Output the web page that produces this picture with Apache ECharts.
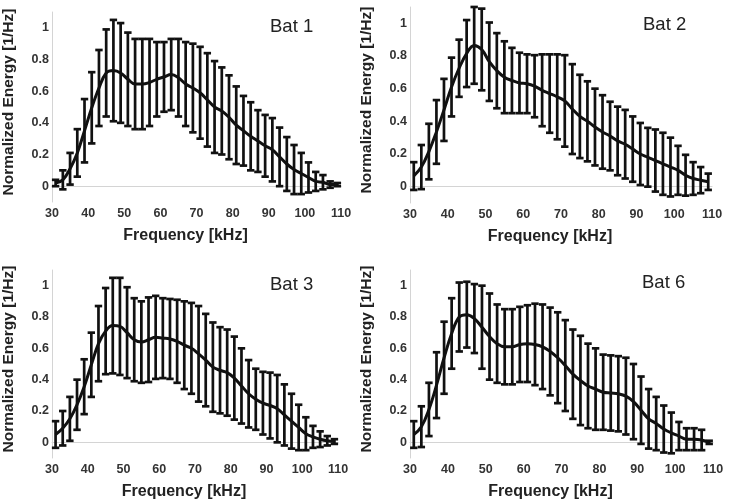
<!DOCTYPE html>
<html>
<head>
<meta charset="UTF-8">
<script src="https://cdn.jsdelivr.net/npm/echarts@6/dist/echarts.min.js"></script>
<title>Normalized energy spectra</title>
<style>
    html, body { margin: 0; padding: 0; background: #fff; }
    #chart { width: 730px; height: 501px; }
</style>
</head>
<body>
<div id="chart"></div>
<script>
// frequency bins (kHz)
const freq = [31, 33, 35, 37, 39, 41, 43, 45, 47, 49, 51, 53, 55, 57, 59, 61, 63, 65, 67, 69,
              71, 73, 75, 77, 79, 81, 83, 85, 87, 89, 91, 93, 95, 97, 99, 101, 103, 105, 107, 109];
const xTicks = [30, 40, 50, 60, 70, 80, 90, 100, 110];
const yTicks = [0, 0.2, 0.4, 0.6, 0.8, 1];

// mean and +/- error for each bat
const bat1Mean = [0.02, 0.04, 0.11, 0.21, 0.35, 0.495, 0.62, 0.715, 0.73, 0.715, 0.675, 0.645, 0.645, 0.655, 0.675, 0.69, 0.705, 0.685, 0.645, 0.62,
                  0.59, 0.545, 0.50, 0.475, 0.435, 0.385, 0.35, 0.315, 0.285, 0.255, 0.23, 0.185, 0.14, 0.105, 0.08, 0.055, 0.03, 0.025, 0.01, 0.01];
const bat1Err  = [0.02, 0.06, 0.10, 0.15, 0.20, 0.225, 0.24, 0.275, 0.32, 0.315, 0.295, 0.285, 0.285, 0.275, 0.235, 0.22, 0.225, 0.245, 0.265, 0.28,
                  0.29, 0.295, 0.29, 0.275, 0.265, 0.245, 0.22, 0.215, 0.195, 0.195, 0.20, 0.185, 0.17, 0.155, 0.13, 0.095, 0.06, 0.045, 0.02, 0.01];

const bat2Mean = [0.065, 0.12, 0.215, 0.335, 0.47, 0.61, 0.725, 0.815, 0.865, 0.84, 0.765, 0.71, 0.67, 0.65, 0.635, 0.63, 0.615, 0.59, 0.57, 0.55,
                  0.525, 0.475, 0.43, 0.40, 0.365, 0.335, 0.31, 0.28, 0.26, 0.23, 0.20, 0.18, 0.16, 0.14, 0.12, 0.10, 0.07, 0.05, 0.04, 0.03];
const bat2Err  = [0.085, 0.135, 0.17, 0.195, 0.19, 0.18, 0.175, 0.205, 0.235, 0.25, 0.24, 0.23, 0.22, 0.20, 0.185, 0.18, 0.19, 0.22, 0.24, 0.26,
                  0.28, 0.275, 0.255, 0.245, 0.235, 0.225, 0.21, 0.21, 0.21, 0.20, 0.19, 0.18, 0.19, 0.19, 0.18, 0.15, 0.125, 0.10, 0.08, 0.05];

const bat3Mean = [0.05, 0.09, 0.15, 0.24, 0.355, 0.495, 0.63, 0.71, 0.745, 0.74, 0.70, 0.655, 0.64, 0.655, 0.67, 0.665, 0.66, 0.645, 0.62, 0.60,
                  0.565, 0.525, 0.48, 0.46, 0.445, 0.41, 0.36, 0.31, 0.275, 0.25, 0.235, 0.215, 0.175, 0.135, 0.095, 0.055, 0.035, 0.02, 0.01, 0.005];
const bat3Err  = [0.085, 0.11, 0.14, 0.16, 0.175, 0.205, 0.24, 0.275, 0.305, 0.31, 0.29, 0.265, 0.26, 0.27, 0.265, 0.255, 0.255, 0.265, 0.28, 0.29,
                  0.305, 0.295, 0.285, 0.275, 0.275, 0.265, 0.24, 0.215, 0.195, 0.20, 0.21, 0.215, 0.195, 0.175, 0.145, 0.105, 0.07, 0.05, 0.03, 0.015];

const bat6Mean = [0.05, 0.10, 0.21, 0.365, 0.54, 0.695, 0.80, 0.815, 0.79, 0.735, 0.675, 0.63, 0.61, 0.61, 0.625, 0.63, 0.625, 0.61, 0.58, 0.54,
                  0.49, 0.435, 0.395, 0.36, 0.34, 0.32, 0.315, 0.31, 0.295, 0.26, 0.205, 0.15, 0.12, 0.085, 0.06, 0.04, 0.02, 0.02, 0.015, 0.0];
const bat6Err  = [0.085, 0.13, 0.17, 0.21, 0.23, 0.225, 0.22, 0.21, 0.22, 0.265, 0.275, 0.25, 0.24, 0.24, 0.24, 0.245, 0.26, 0.27, 0.28, 0.29,
                  0.29, 0.285, 0.285, 0.27, 0.26, 0.24, 0.24, 0.24, 0.245, 0.24, 0.215, 0.19, 0.17, 0.15, 0.13, 0.09, 0.07, 0.07, 0.065, 0.01];

const panels = [
    { name: 'Bat 1', mean: bat1Mean, err: bat1Err, grid: { left: 45, top: 12, width: 296, height: 190 }, label: [270, 27] },
    { name: 'Bat 2', mean: bat2Mean, err: bat2Err, grid: { left: 410, top: 7, width: 302, height: 196 }, label: [643, 25] },
    { name: 'Bat 3', mean: bat3Mean, err: bat3Err, grid: { left: 45, top: 270, width: 293, height: 191 }, label: [270, 285] },
    { name: 'Bat 6', mean: bat6Mean, err: bat6Err, grid: { left: 410, top: 270, width: 303, height: 191 }, label: [642, 283] }
];

const FONT = 'Arial, "Liberation Sans", sans-serif';
const INK = '#111';

// vertical error bar with caps
function renderErr(params, api) {
    const x = api.value(0);
    const top = api.coord([x, api.value(2)]);
    const bot = api.coord([x, api.value(1)]);
    const w = 3.7;
    const st = { stroke: INK, lineWidth: 2.7 };
    return {
        type: 'group',
        children: [
            { type: 'line', shape: { x1: top[0], y1: top[1], x2: bot[0], y2: bot[1] }, style: st },
            { type: 'line', shape: { x1: top[0] - w, y1: top[1], x2: top[0] + w, y2: top[1] }, style: st },
            { type: 'line', shape: { x1: bot[0] - w, y1: bot[1], x2: bot[0] + w, y2: bot[1] }, style: st }
        ]
    };
}

const grids = [], xAxes = [], yAxes = [], series = [], graphics = [];
panels.forEach((p, i) => {
    grids.push(p.grid);
    xAxes.push({
        type: 'value', gridIndex: i, min: 30, max: 110, interval: 10,
        name: 'Frequency [kHz]', nameLocation: 'middle', nameGap: 26,
        nameTextStyle: { fontFamily: FONT, fontWeight: 'bold', fontSize: 16, color: '#222', padding: [0, 22, 0, 0] },
        axisLine: { lineStyle: { color: '#d4d4d4', width: 1 } },
        axisTick: { show: false },
        splitLine: { show: false },
        axisLabel: { customValues: xTicks, fontFamily: FONT, fontWeight: 'bold', fontSize: 12.5, color: '#333', margin: 5 }
    });
    yAxes.push({
        type: 'value', gridIndex: i, min: -0.1, max: 1.1,
        name: 'Normalized Energy [1/Hz]', nameLocation: 'middle', nameGap: 35,
        nameTextStyle: { fontFamily: FONT, fontWeight: 'bold', fontSize: 15.5, color: '#222', padding: [0, 0, 0, 10] },
        axisLine: { show: true, lineStyle: { color: '#d4d4d4', width: 1 } },
        axisTick: { show: false },
        splitLine: { show: false },
        axisLabel: { customValues: yTicks, fontFamily: FONT, fontWeight: 'bold', fontSize: 12.5, color: '#333', margin: 3 }
    });
    series.push({
        type: 'custom', xAxisIndex: i, yAxisIndex: i,
        renderItem: renderErr,
        data: freq.map((f, k) => [f, p.mean[k] - p.err[k], p.mean[k] + p.err[k]]),
        z: 2
    });
    series.push({
        type: 'line', xAxisIndex: i, yAxisIndex: i,
        data: freq.map((f, k) => [f, p.mean[k]]),
        smooth: 0.4, symbol: 'none',
        lineStyle: { color: INK, width: 3 },
        z: 3
    });
    graphics.push({
        type: 'text', x: p.label[0], y: p.label[1],
        style: { text: p.name, font: '18.5px ' + FONT, fill: '#222', textVerticalAlign: 'middle' }
    });
});

const chart = echarts.init(document.getElementById('chart'), null, { renderer: 'canvas' });
chart.setOption({
    animation: false,
    backgroundColor: '#fff',
    grid: grids,
    xAxis: xAxes,
    yAxis: yAxes,
    series: series,
    graphic: graphics
});
</script>
</body>
</html>
